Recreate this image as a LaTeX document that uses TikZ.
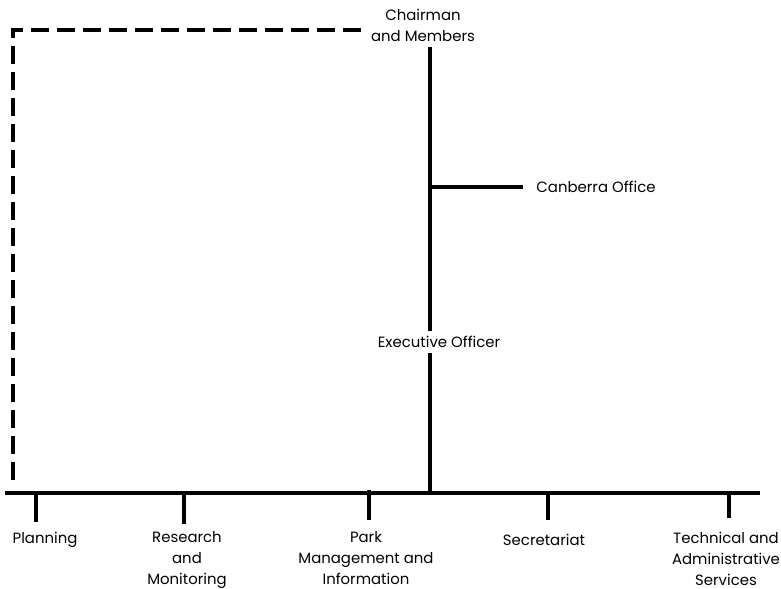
\documentclass[tikz,border=0pt]{standalone}
\usepackage{fontspec}
\setmainfont{Poppins}
\usetikzlibrary{calc}

\begin{document}
\begin{tikzpicture}[x=0.025cm,y=-0.025cm,line width=2.4pt,
   lbl/.style={align=center,font=\fontsize{10.6}{15}\selectfont,inner sep=0pt},
   dashline/.style={dash pattern=on 0.45cm off 0.2cm}]
\useasboundingbox (0,0) rectangle (781,589);
   % Draw spine and bar
\coordinate (S) at (430,0);
\coordinate (BL) at (5,493);
\coordinate (BR) at (760,493);
\coordinate (BJ) at (430,493);
\coordinate (CJ) at (430,187);
\coordinate (D1) at (13,480);
\coordinate (D2) at (13,30);
\coordinate (D3) at (366,30);

\node[lbl] (chair) at (423,25) {Chairman\\and Members};
\node[lbl] (canb) at (596,187) {Canberra Office};
\node[lbl] (exec) at (439,342) {Executive Officer};

\node[lbl,anchor=north] (plan) at (45,530) {Planning};
\node[lbl,anchor=north] (res) at (187,530) {Research\\and\\Monitoring};
\node[lbl,anchor=north] (park) at (366,530) {Park\\Management and\\Information};
\node[lbl,anchor=north] (sec) at (544,532) {Secretariat};
\node[lbl,anchor=north] (tech) at (726,530) {Technical and\\Administrative\\Services};

\draw[dashline] (D1) -- (D2) -- (D3);
\draw ([yshift=-0.1cm]chair.south -| S) -- ([yshift=0.1cm]exec.north -| S);
\draw ([yshift=-0.1cm]exec.south -| S) -- (BJ);
\draw (CJ) -- ([xshift=-0.3cm]canb.west);
\draw (BL) -- (BR);

\draw (36,493) -- ([yshift=0.2cm]plan.north -| 36,0);
\draw (184,493) -- ([yshift=0.15cm]res.north -| 184,0);
\draw (369,490) -- ([yshift=0.25cm]park.north -| 369,0);
\draw (548,493) -- ([yshift=0.3cm]sec.north -| 548,0);
\draw (729,493) -- ([yshift=0.3cm]tech.north -| 729,0);
\end{tikzpicture}
\end{document}
